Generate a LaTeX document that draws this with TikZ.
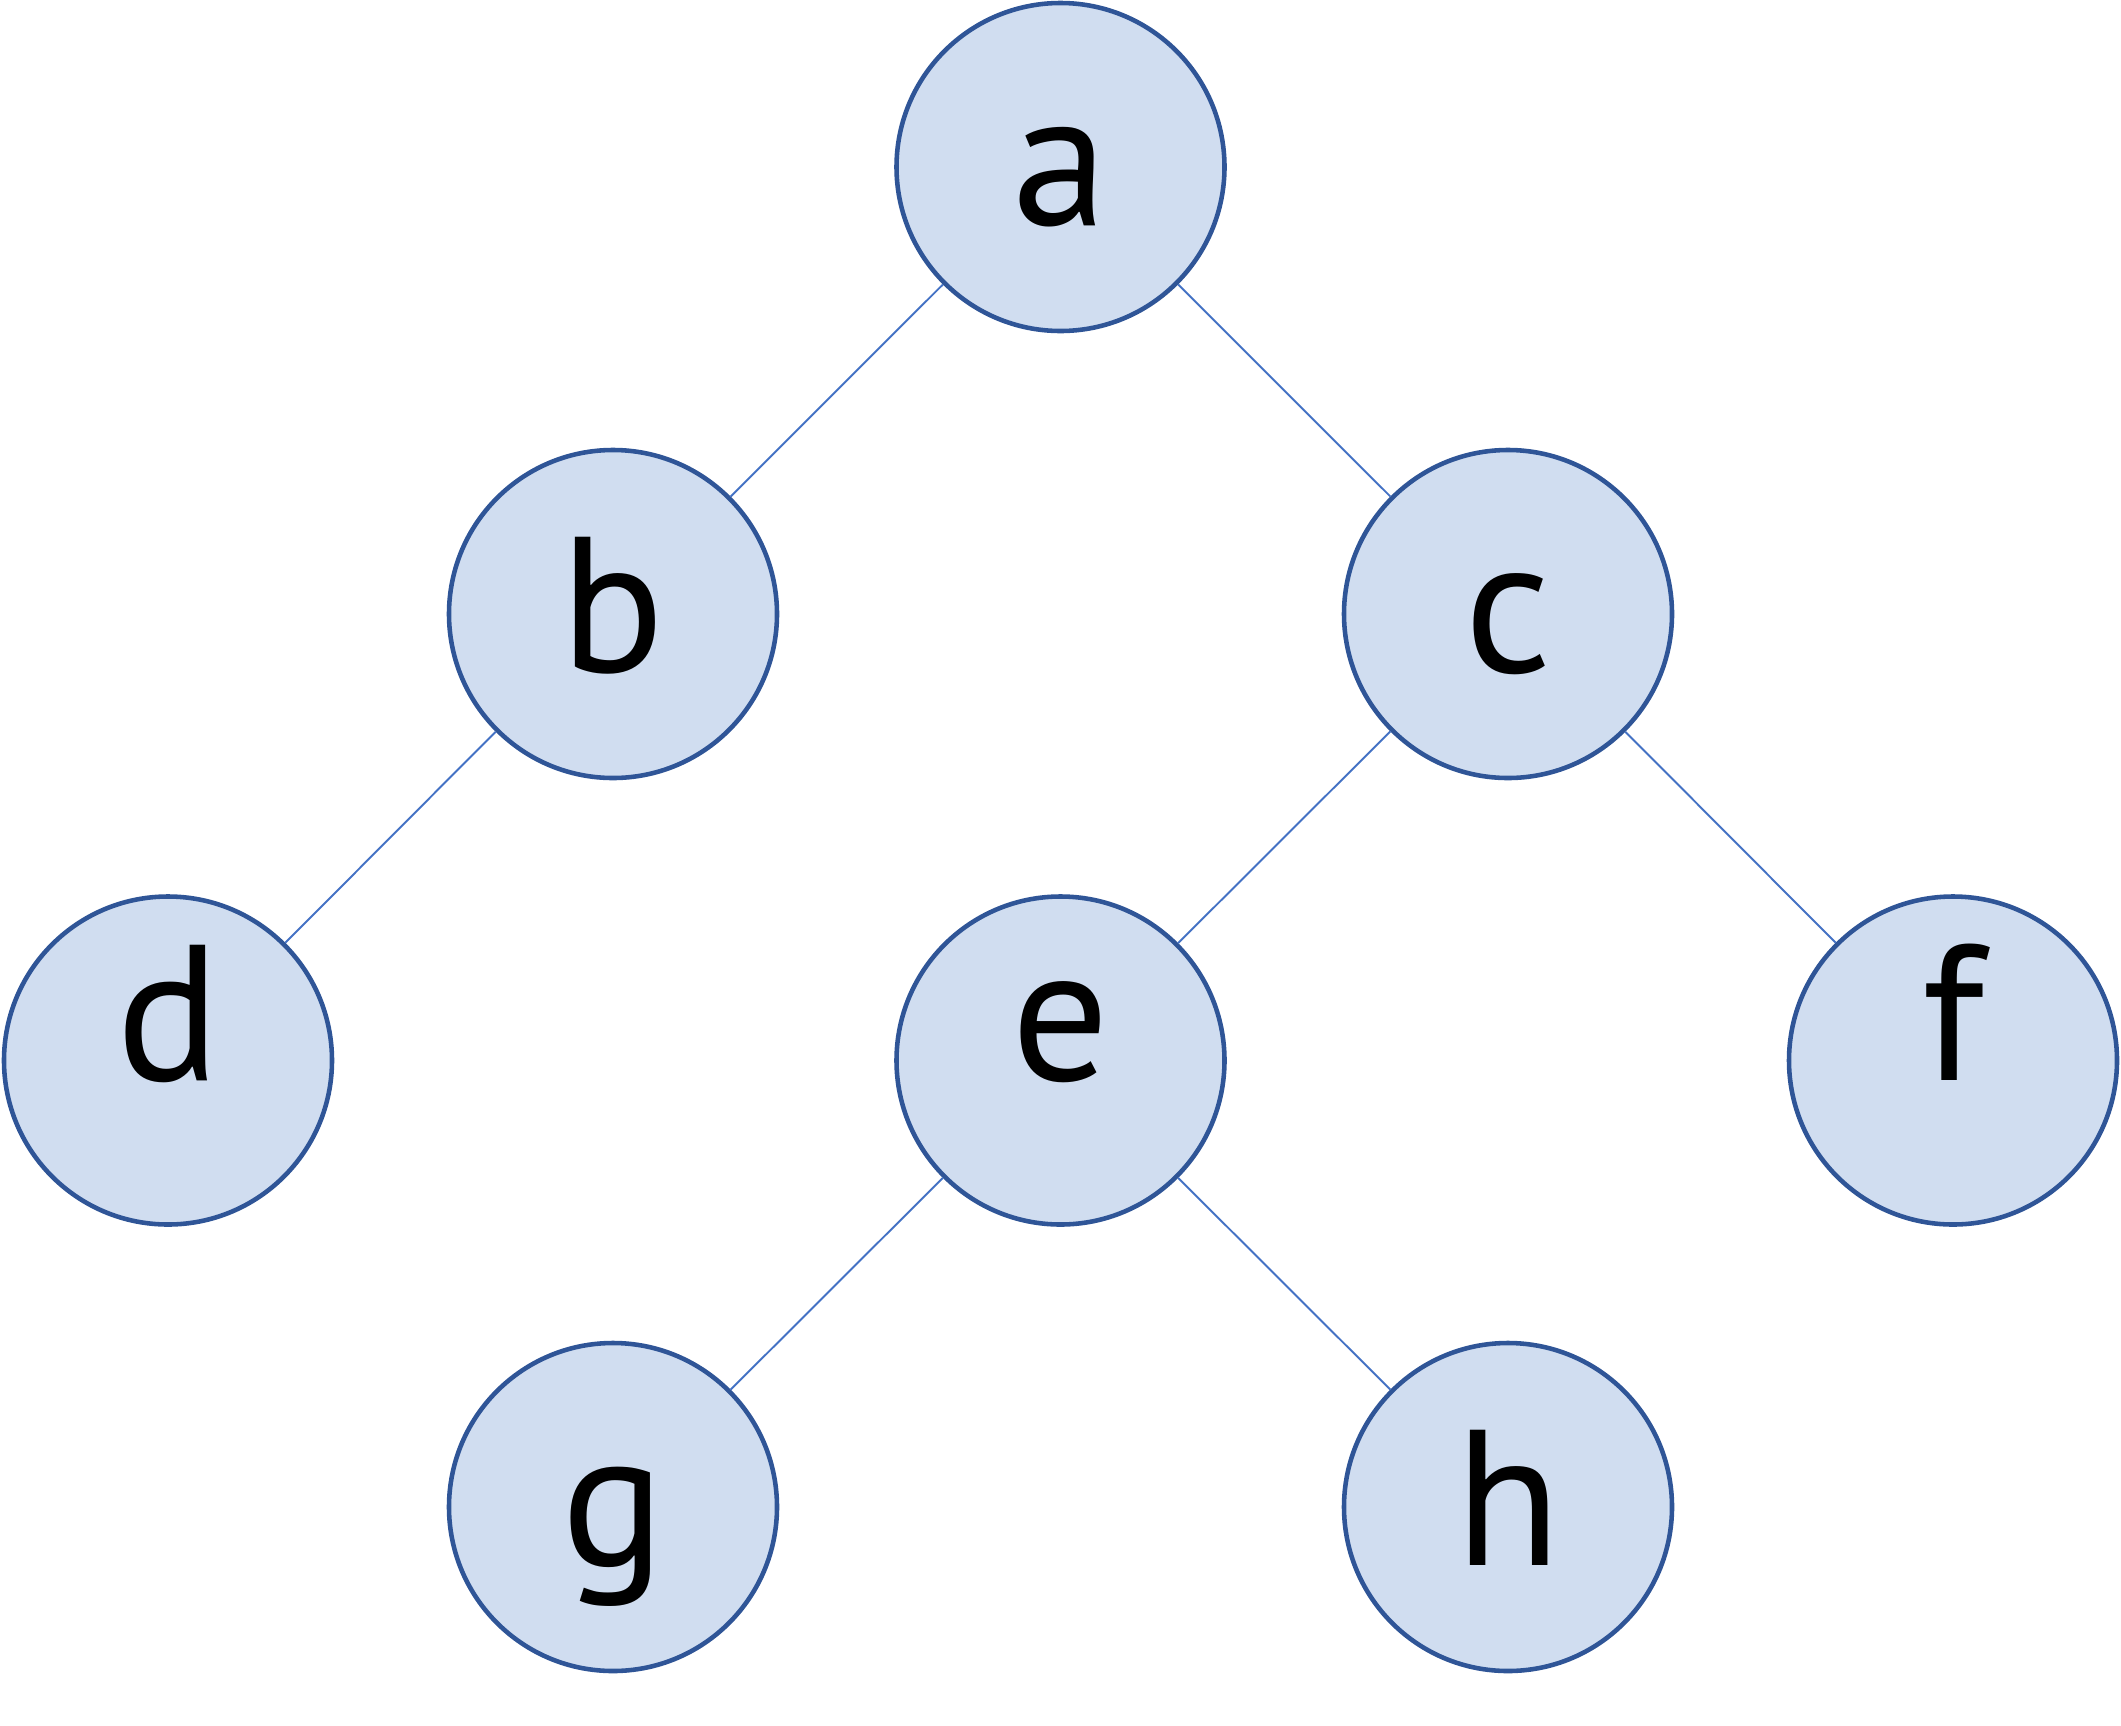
\documentclass[tikz,border=0pt]{standalone}
\usepackage{fontspec}
\setmainfont{PT Sans}
\definecolor{nodefill}{HTML}{D0DDF0}
\definecolor{nodeline}{HTML}{2F5597}
\definecolor{edgeline}{HTML}{4472C4}
\begin{document}
\begin{tikzpicture}[
  vertex/.style={circle,draw=nodeline,fill=nodefill,line width=1.3pt,
    minimum size=3.28cm,inner sep=0pt,text height=1.16cm,text depth=0cm,
    font=\fontsize{55}{60}\selectfont},
  midrow/.style={text height=0.40cm},
  edge/.style={draw=edgeline,line width=0.55pt}]
\useasboundingbox (0,-17.26) rectangle (21.21,0);
% levels of the tree
\node[vertex] (a) at (10.605,-1.67) {a};
\node[vertex] (b) at (6.13,-6.14) {b};
\node[vertex] (c) at (15.08,-6.14) {c};
\node[vertex,midrow] (d) at (1.68,-10.605) {d};
\node[vertex,midrow] (e) at (10.605,-10.605) {e};
\node[vertex,midrow] (f) at (19.53,-10.605) {f};
\node[vertex] (g) at (6.13,-15.07) {g};
\node[vertex] (h) at (15.08,-15.07) {h};
\foreach \from/\to in {a/b,a/c,b/d,c/e,c/f,e/g,e/h}
  \draw[edge] (\from) -- (\to);
\end{tikzpicture}
\end{document}
